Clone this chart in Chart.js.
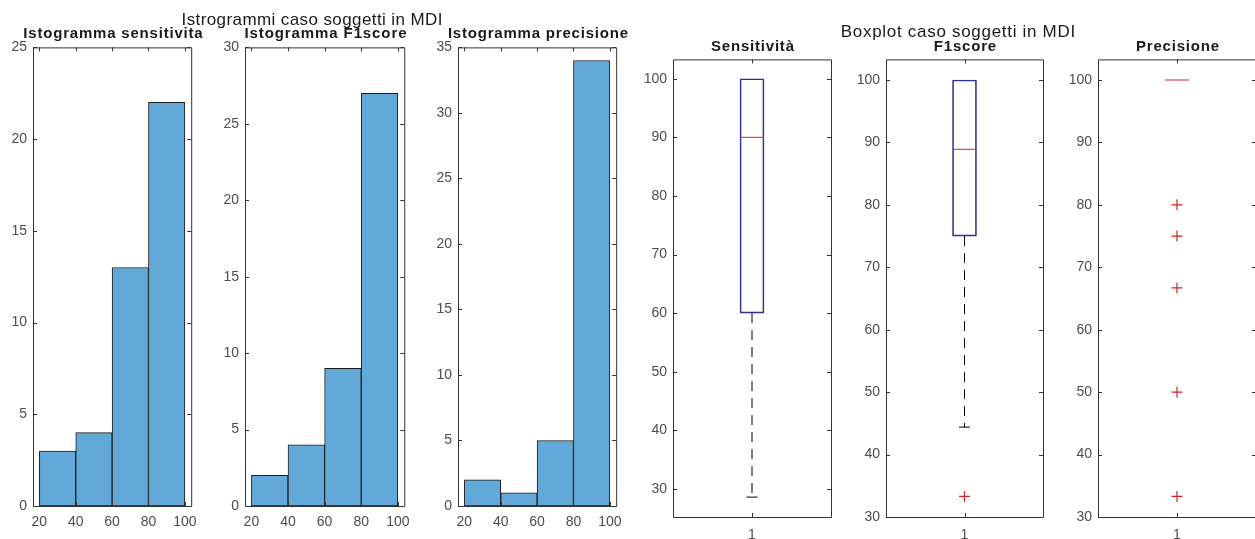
<!DOCTYPE html>
<html>
<head>
<meta charset="utf-8">
<script src="https://cdn.jsdelivr.net/npm/chart.js@4.4.1/dist/chart.umd.min.js"></script>
<style>
  html, body { margin: 0; padding: 0; background: #fff; }
  body { width: 1255px; height: 539px; overflow: hidden; position: relative;
         font-family: "Liberation Sans", Arial, sans-serif; }
  canvas { position: absolute; }
  .t { position: absolute; width: 400px; text-align: center; white-space: nowrap; color: #1a1a1a; }
</style>
</head>
<body>
<script>
// histogram data (bin centres of 20-wide bins)
const histTicks = [20, 40, 60, 80, 100];
const binCentres = [30, 50, 70, 90];
const sensCounts = [3, 4, 13, 22];
const f1Counts = [2, 4, 9, 27];
const precCounts = [2, 1, 5, 34];

// boxplot data: [lower whisker, Q1, median, Q3, upper whisker]
const boxLabels = ['1'];
const boxTicks = [30, 40, 50, 60, 70, 80, 90, 100];
const sensStats = [28.6, 60, 90, 100, 100];
const f1Stats = [44.4, 75, 88.9, 100, 100];
const precStats = [100, 100, 100, 100, 100];
const sensOutliers = [];
const f1Outliers = [33.3];
const precOutliers = [80, 75, 66.7, 50, 33.3];

const PAD_L = 32, PAD_T = 12, PAD_R = 12, PAD_B = 32;
const TICK_COLOR = '#4d4d4d';
const TICK_FONT = { family: "'Liberation Sans', Arial, sans-serif", size: 14 };
const RED = '#cc2626';
const NAVY = '#30308f';

Chart.defaults.font.family = "'Liberation Sans', Arial, sans-serif";

// MATLAB style box round the axes, with ticks pointing inward
const matlabFrame = {
  id: 'matlabFrame',
  afterDatasetsDraw(chart) {
    const { ctx, chartArea: a } = chart;
    const x = chart.scales.x, y = chart.scales.y;
    const len = 4;
    ctx.save();
    ctx.strokeStyle = '#333';
    ctx.lineWidth = 1;
    ctx.beginPath();
    ctx.rect(a.left + 0.5, a.top + 0.5, a.right - a.left, a.bottom - a.top);
    x.ticks.forEach((t, i) => {
      const px = Math.round(x.getPixelForTick(i)) + 0.5;
      ctx.moveTo(px, a.bottom); ctx.lineTo(px, a.bottom - len);
      ctx.moveTo(px, a.top); ctx.lineTo(px, a.top + len);
    });
    y.ticks.forEach((t, i) => {
      const py = Math.round(y.getPixelForTick(i)) + 0.5;
      ctx.moveTo(a.left, py); ctx.lineTo(a.left + len, py);
      ctx.moveTo(a.right, py); ctx.lineTo(a.right - len, py);
    });
    ctx.stroke();
    ctx.restore();
  }
};

function addText(text, cx, baseline, size, weight, spacing) {
  const d = document.createElement('div');
  d.className = 't';
  d.textContent = text;
  d.style.fontSize = size + 'px';
  d.style.lineHeight = size + 'px';
  d.style.fontWeight = weight;
  d.style.letterSpacing = spacing + 'px';
  d.style.left = (cx - 200 + spacing / 2) + 'px';
  d.style.top = (baseline - 0.8465 * size) + 'px';
  document.body.appendChild(d);
}

function makeCanvas(area) {
  const c = document.createElement('canvas');
  const w = area.r - area.l + PAD_L + PAD_R;
  const h = area.b - area.t + PAD_T + PAD_B;
  c.width = w; c.height = h;
  c.style.width = w + 'px'; c.style.height = h + 'px';
  c.style.left = (area.l - PAD_L) + 'px';
  c.style.top = (area.t - PAD_T) + 'px';
  document.body.appendChild(c);
  return c.getContext('2d');
}

function axisCommon(extra) {
  return Object.assign({
    grid: { display: false, drawTicks: false },
    border: { display: false },
  }, extra);
}

function histogram(area, counts, yMax) {
  const yTicks = [];
  for (let v = 0; v <= yMax; v += 5) yTicks.push(v);
  new Chart(makeCanvas(area), {
    type: 'bar',
    data: {
      datasets: [{
        data: binCentres.map((c, i) => ({ x: c, y: counts[i] })),
        backgroundColor: '#62a9d9',
        borderColor: '#1c1c1c',
        borderWidth: 1,
        borderSkipped: false,
        barPercentage: 1,
        categoryPercentage: 1
      }]
    },
    options: {
      responsive: false, animation: false, devicePixelRatio: 1,
      layout: { padding: { left: 0, top: PAD_T, right: PAD_R, bottom: 0 } },
      plugins: { legend: { display: false }, tooltip: { enabled: false } },
      scales: {
        x: axisCommon({
          type: 'linear', min: 16.5, max: 103.5, offset: false,
          afterBuildTicks: s => { s.ticks = histTicks.map(v => ({ value: v })); },
          afterFit: s => { s.height = PAD_B; },
          ticks: { padding: 8, color: TICK_COLOR, font: TICK_FONT, maxRotation: 0, autoSkip: false }
        }),
        y: axisCommon({
          min: 0, max: yMax,
          afterBuildTicks: s => { s.ticks = yTicks.map(v => ({ value: v })); },
          afterFit: s => { s.width = PAD_L; },
          ticks: { padding: 6, color: TICK_COLOR, font: TICK_FONT }
        })
      }
    },
    plugins: [matlabFrame]
  });
}

function boxplot(area, stats, outliers, yMin) {
  const [lw, q1, med, q3, uw] = stats;
  const datasets = [
    { type: 'line', data: [med], showLine: false, pointStyle: 'line', pointRadius: 12,
      pointBorderColor: RED, pointBorderWidth: 1, order: 0 },
    { type: 'line', data: outliers.map(v => ({ x: boxLabels[0], y: v })), showLine: false,
      pointStyle: 'cross', pointRadius: 5.5, pointBorderColor: RED, pointBorderWidth: 1.2, order: 0 },
    { type: 'bar', data: [[q1, q3]], backgroundColor: 'rgba(0,0,0,0)', borderColor: NAVY,
      borderWidth: 1, borderSkipped: false, barThickness: 24, order: 1 }
  ];
  if (lw < q1) {
    datasets.push({ type: 'line', data: [{ x: boxLabels[0], y: q1 }, { x: boxLabels[0], y: lw }],
      borderColor: '#000', borderWidth: 1, borderDash: [10, 7], pointRadius: 0, order: 2 });
    datasets.push({ type: 'line', data: [{ x: boxLabels[0], y: lw }], showLine: false,
      pointStyle: 'line', pointRadius: 5.5, pointBorderColor: '#000', pointBorderWidth: 1, order: 2 });
  }
  if (uw > q3) {
    datasets.push({ type: 'line', data: [{ x: boxLabels[0], y: q3 }, { x: boxLabels[0], y: uw }],
      borderColor: '#000', borderWidth: 1, borderDash: [10, 7], pointRadius: 0, order: 2 });
    datasets.push({ type: 'line', data: [{ x: boxLabels[0], y: uw }], showLine: false,
      pointStyle: 'line', pointRadius: 5.5, pointBorderColor: '#000', pointBorderWidth: 1, order: 2 });
  }
  new Chart(makeCanvas(area), {
    type: 'bar',
    data: { labels: boxLabels, datasets },
    options: {
      responsive: false, animation: false, devicePixelRatio: 1,
      layout: { padding: { left: 0, top: PAD_T, right: PAD_R, bottom: 0 } },
      plugins: { legend: { display: false }, tooltip: { enabled: false } },
      scales: {
        x: axisCommon({
          offset: true,
          afterFit: s => { s.height = PAD_B; },
          ticks: { padding: 10, color: TICK_COLOR, font: TICK_FONT, maxRotation: 0 }
        }),
        y: axisCommon({
          min: yMin, max: 103.3,
          afterBuildTicks: s => { s.ticks = boxTicks.map(v => ({ value: v })); },
          afterFit: s => { s.width = PAD_L; },
          ticks: { padding: 6, color: TICK_COLOR, font: TICK_FONT }
        })
      }
    },
    plugins: [matlabFrame]
  });
}

// plot areas (pixels on the page)
histogram({ l: 33, t: 45, r: 193, b: 506 }, sensCounts, 25);
histogram({ l: 245, t: 45, r: 406, b: 506 }, f1Counts, 30);
histogram({ l: 458, t: 45, r: 618, b: 506 }, precCounts, 35);
boxplot({ l: 673, t: 57, r: 832, b: 517 }, sensStats, sensOutliers, 25.2);
boxplot({ l: 886, t: 57, r: 1044, b: 517 }, f1Stats, f1Outliers, 30);
boxplot({ l: 1098, t: 57, r: 1257, b: 517 }, precStats, precOutliers, 30);

// titles
addText('Istogramma sensitivita', 113, 37.5, 15, 'bold', 0.8);
addText('Istogramma F1score', 325.5, 37.5, 15, 'bold', 0.9);
addText('Istogramma precisione', 538, 37.5, 15, 'bold', 0.8);
addText('Sensitività', 752.5, 50.5, 15, 'bold', 0.8);
addText('F1score', 965, 50.5, 15, 'bold', 0.8);
addText('Precisione', 1177.5, 50.5, 15, 'bold', 0.8);
addText('Istrogrammi caso soggetti in MDI', 312, 25, 17, 'normal', 0.4);
addText('Boxplot caso soggetti in MDI', 958, 37.3, 17, 'normal', 0.7);
</script>
</body>
</html>
